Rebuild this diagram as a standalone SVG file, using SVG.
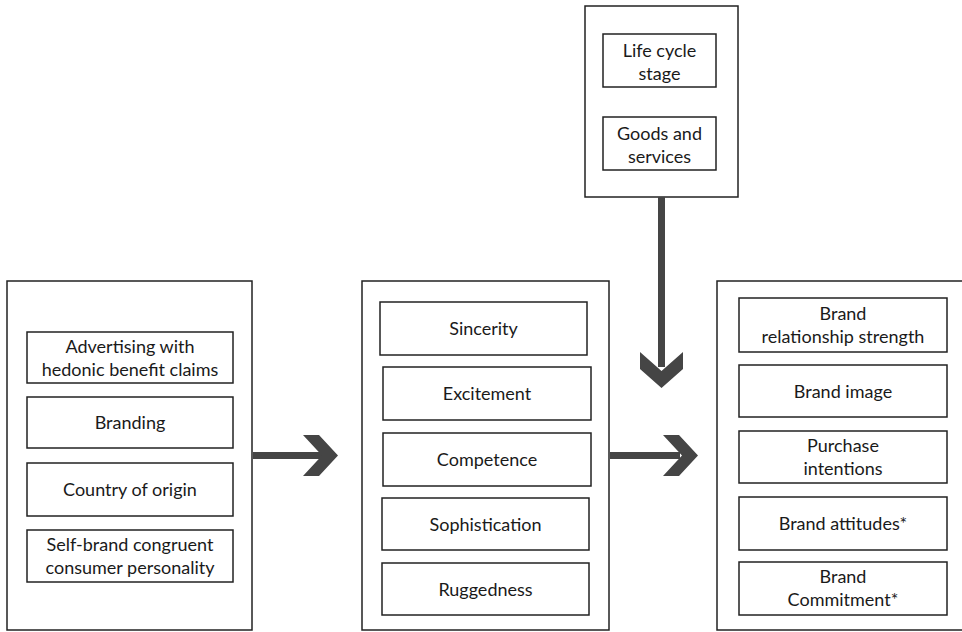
<svg xmlns="http://www.w3.org/2000/svg" width="962" height="632" viewBox="0 0 962 632">
<style>
.outer{fill:#fff;stroke:#222;stroke-width:1.5}
.inner{fill:#fff;stroke:#222;stroke-width:1.5}
text{font-family:Lato,"Open Sans","Liberation Sans",sans-serif;font-size:18px;fill:#1a1a1a;text-anchor:middle}
.arr{fill:#454545}
</style>
<rect width="962" height="632" fill="#fff"/>
<g id="top-group">
<rect class="outer" x="585" y="6" width="153" height="191"/>
<g id="life-cycle"><rect class="inner" x="603" y="34" width="113" height="53"/><text x="659.5" y="57">Life cycle</text><text x="659.5" y="80">stage</text></g>
<g id="goods-services"><rect class="inner" x="603" y="117" width="113" height="53"/><text x="659.5" y="140">Goods and</text><text x="659.5" y="163">services</text></g>
</g>
<g id="antecedents">
<rect class="outer" x="7" y="281" width="245" height="349"/>
<g id="advertising"><rect class="inner" x="27" y="332" width="206" height="51"/><text x="130" y="353">Advertising with</text><text x="130" y="376">hedonic benefit claims</text></g>
<g id="branding"><rect class="inner" x="27" y="397" width="206" height="51"/><text x="130" y="429">Branding</text></g>
<g id="country"><rect class="inner" x="27" y="463" width="206" height="53"/><text x="130" y="496">Country of origin</text></g>
<g id="self-brand"><rect class="inner" x="27" y="530" width="206" height="52"/><text x="130" y="551">Self-brand congruent</text><text x="130" y="574">consumer personality</text></g>
</g>
<g id="personality">
<rect class="outer" x="362" y="281" width="247" height="349"/>
<g id="sincerity"><rect class="inner" x="380" y="302" width="207" height="53"/><text x="483.5" y="335">Sincerity</text></g>
<g id="excitement"><rect class="inner" x="383" y="367" width="208" height="53"/><text x="487" y="400">Excitement</text></g>
<g id="competence"><rect class="inner" x="383" y="433" width="208" height="53"/><text x="487" y="466">Competence</text></g>
<g id="sophistication"><rect class="inner" x="382" y="498" width="207" height="52"/><text x="485.5" y="531">Sophistication</text></g>
<g id="ruggedness"><rect class="inner" x="382" y="563" width="207" height="52"/><text x="485.5" y="596">Ruggedness</text></g>
</g>
<g id="outcomes">
<rect class="outer" x="717" y="281" width="260" height="349"/>
<g id="relationship"><rect class="inner" x="739" y="298" width="208" height="54"/><text x="843" y="320">Brand</text><text x="843" y="343">relationship strength</text></g>
<g id="image"><rect class="inner" x="739" y="365" width="208" height="52"/><text x="843" y="398">Brand image</text></g>
<g id="purchase"><rect class="inner" x="739" y="431" width="208" height="52"/><text x="843" y="452">Purchase</text><text x="843" y="475">intentions</text></g>
<g id="attitudes"><rect class="inner" x="739" y="497" width="208" height="53"/><text x="843" y="530">Brand attitudes*</text></g>
<g id="commitment"><rect class="inner" x="739" y="562" width="208" height="53"/><text x="843" y="583">Brand</text><text x="843" y="606">Commitment*</text></g>
</g>
<g id="connectors">
<rect class="arr" x="253" y="452" width="70" height="7"/>
<polygon class="arr" points="303,435 319,435 338,455.5 319,476 303,476 322,455.5"/>
<rect class="arr" x="610" y="452" width="70" height="7"/>
<polygon class="arr" points="663,435 679,435 698,455.5 679,476 663,476 682,455.5"/>
<rect class="arr" x="658" y="197" width="7" height="170"/>
<polygon class="arr" points="640,352 640,369 661.5,388 683,369 683,352 661.5,371"/>
</g>
</svg>
